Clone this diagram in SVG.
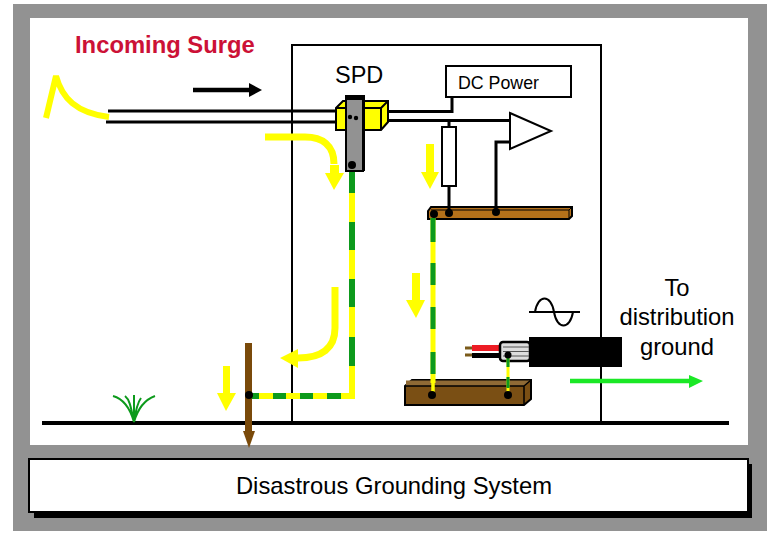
<svg xmlns="http://www.w3.org/2000/svg" width="780" height="540" viewBox="0 0 780 540">
<style>
text{font-family:"Liberation Sans",Arial,sans-serif;fill:#000}
.k{fill:none;stroke:#000}
.y{fill:none;stroke:#ffff00}
.d{fill:#000}
.ya{fill:#ffff00}
.gd{fill:none;stroke:#0d9a1c}
</style>
<rect width="780" height="540" fill="#fff"/>
<rect x="13" y="4" width="754" height="527" fill="#929292"/>
<rect x="30" y="18" width="718" height="427" fill="#fff"/>

<g id="enclosure"><path class="k" stroke-width="2" d="M292 423V45H601V423"/></g>
<g id="ground-line"><path class="k" stroke-width="4" d="M42 423H729"/></g>

<g id="surge-label"><text x="75" y="53" font-size="23.8" font-weight="bold" style="fill:#cc1136">Incoming Surge</text></g>
<g id="surge-waveform"><path class="y" stroke-width="6" d="M46 118L56 76C62 98 76 113 109 117"/></g>

<g id="upper-bar">
<path d="M428 211L431 207H572V216L569 219H428Z" fill="#b5711a" stroke="#000" stroke-width="2"/>
<path class="k" stroke-width="1" d="M431 210H569V219M569 210L572 207"/>
</g>
<g id="lower-bar">
<path d="M405 386L412 380H531V399L524 405H405Z" fill="#7a4f14" stroke="#000" stroke-width="2"/>
<path d="M406 380.500H531L524 386H406Z" fill="#8f6a35"/>
<path d="M405 386H524V405M524 386L531 380" class="k" stroke-width="1.500"/>
</g>
<g id="cable">
<path d="M465 348H472M465 355H472" stroke="#7a5a1a" stroke-width="3"/>
<path d="M472 348H503" stroke="#ed1c24" stroke-width="6"/>
<path d="M472 355.500H503" stroke="#000" stroke-width="5"/>
<rect x="500" y="342" width="30" height="19" rx="3" fill="#ddd" stroke="#000" stroke-width="2.500"/>
<path d="M503 347H529M503 351.500H529M503 356H529" stroke="#555" stroke-width="1"/>
<rect x="529" y="337" width="93" height="30"/>
</g>

<g id="connectors">
<path class="k" stroke-width="3" d="M108 111H345M106 122H345"/>
<path class="k" stroke-width="3" d="M388 111.5H452V97M388 120.500H512"/>
<path class="k" stroke-width="3" d="M449 120V127M449 186V212M496 212V142H511"/>
<path class="k" stroke-width="4.500" d="M193 90H250"/>
<path class="d" d="M249 83L262 90L249 97Z"/>
<path class="y" stroke-width="6" d="M352 170V396H248"/>
<path class="gd" stroke-width="6" d="M352 170V193M352 222V250M352 279V307M352 337V366M341 396H327M313 396H300M286 396H273M259 396H252"/>
<path class="y" stroke-width="5" d="M433 218V383"/>
<path class="y" stroke-width="3.500" d="M433 383V395"/>
<path class="gd" stroke-width="5" d="M433 218V242M433 263V285M433 307V329M433 352V374"/>
<path class="y" stroke-width="3" d="M508 358V395"/>
<path class="gd" stroke-width="3" d="M508 358V367M508 377V388"/>
</g>

<g id="terminals">
<circle cx="434" cy="214" r="4"/><circle cx="449" cy="213" r="4"/><circle cx="496" cy="212" r="4"/>
<circle cx="432" cy="395" r="4"/><circle cx="508" cy="395" r="4"/><circle cx="508" cy="355" r="3.500"/>
</g>

<g id="spd">
<text x="335" y="83" font-size="23.500">SPD</text>
<path d="M336 108L343 101H388V122L381 130H336Z" fill="#ffff00" stroke="#000" stroke-width="2"/>
<path d="M336 108H381V130M381 108L388 101" class="k" stroke-width="2"/>
<rect x="346" y="97" width="17" height="74" fill="#929292" stroke="#000" stroke-width="2"/>
<path d="M345 95H365V171H362V100H345Z"/>
<circle cx="350" cy="117" r="2.200"/><circle cx="356" cy="118" r="2.200"/>
<circle cx="352" cy="165" r="4"/>
</g>

<g id="dc-power"><rect x="446" y="66" width="125" height="31" fill="#fff" stroke="#000" stroke-width="2"/><text x="458" y="89" font-size="17.800">DC Power</text></g>
<g id="resistor"><rect x="442" y="127" width="14" height="59" fill="#fff" stroke="#000" stroke-width="2"/></g>
<g id="amplifier"><path d="M510 113L551 131L510 149Z" fill="#fff" stroke="#000" stroke-width="2"/></g>

<g id="surge-arrows">
<path class="y" stroke-width="7" d="M265 137H305C322 137 334 145 334 164"/>
<path class="ya" d="M330 165H339V173H344L334 190L325 173H330Z"/>
<path class="ya" d="M426 144H434V172H439L430 189L421 172H426Z"/>
<path class="ya" d="M412 273H420V300H425L416 318L406 300H412Z"/>
<path class="y" stroke-width="7" d="M335 287V328C335 348 322 358 298 358"/>
<path class="ya" d="M280 358L298 349V368Z"/>
<path class="ya" d="M223 366H230V393H236L226 411L217 393H223Z"/>
</g>

<g id="ground-rod">
<rect x="245" y="343" width="7" height="90" fill="#7a4a0a"/>
<path d="M243 431H255L249 448Z" fill="#7a4a0a"/>
<circle cx="249" cy="395" r="4"/>
</g>

<g id="grass"><path d="M134 422C130 408 124 399 113 396M134 422C131 408 130 400 125 396M134 422V395M134 422C136 408 138 402 141 398M134 422C138 408 144 400 155 396" fill="none" stroke="#0d9a1c" stroke-width="2"/></g>

<g id="sine"><path class="k" stroke-width="2" d="M529 312H580M535 312C538 294 551 294 554 312C557 330 570 330 573 312"/></g>

<g id="distribution-arrow">
<path d="M570 381H692" stroke="#1be826" stroke-width="4.500" fill="none"/>
<path d="M689 375L703 381L689 388Z" fill="#1be826"/>
<text font-size="23.800" text-anchor="middle"><tspan x="677" y="296">To</tspan><tspan x="677" y="325">distribution</tspan><tspan x="677" y="355">ground</tspan></text>
</g>

<g id="grounding-system">
<rect x="34" y="464" width="718" height="54"/>
<rect x="29" y="459" width="719" height="53" fill="#fff" stroke="#000" stroke-width="2"/>
<text x="394" y="494" font-size="23.800" text-anchor="middle">Disastrous Grounding System</text>
</g>
</svg>
